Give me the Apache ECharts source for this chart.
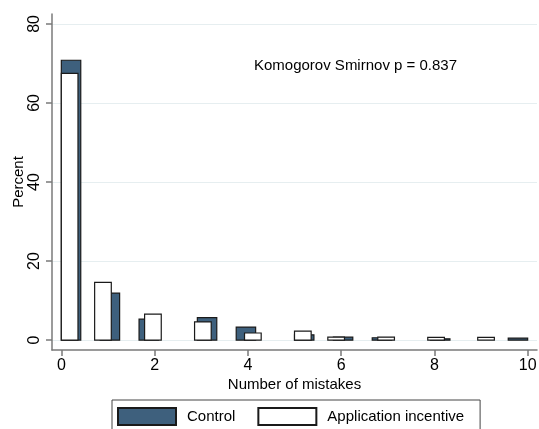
<!DOCTYPE html>
<html>
<head>
<meta charset="utf-8">
<script src="https://cdn.jsdelivr.net/npm/echarts@6/dist/echarts.min.js"></script>
<style>
  html, body { margin: 0; padding: 0; background: #fff; }
  #chart { width: 539px; height: 429px; }
</style>
</head>
<body>
<div id="chart"></div>
<script>
// Number of mistakes (discrete values)
const mistakes = [0, 1, 2, 3, 4, 5, 6, 7, 8, 9, 10];
// Percent of participants per value
const controlPct = [70.8, 11.9, 5.3, 5.7, 3.3, 1.35, 0.75, 0.6, 0.35, 0, 0.5];
const incentivePct = [67.5, 14.6, 6.6, 4.6, 1.8, 2.3, 0.75, 0.75, 0.7, 0.7, 0];
// Histogram bin widths used by each group (range 0..10 split in 24 and 28 bins)
const controlBins = 24;
const incentiveBins = 28;
const xTicks = [0, 2, 4, 6, 8, 10];
const yTicks = [0, 20, 40, 60, 80];
const seriesNames = ['Control', 'Application incentive'];
const annotation = 'Komogorov Smirnov p = 0.837';

function binData(values, pct, nBins) {
  const w = 10 / nBins;
  const out = [];
  values.forEach((v, i) => {
    if (pct[i] <= 0) return;
    let k = Math.floor(v / w + 1e-9);
    if (k >= nBins) k = nBins - 1;
    out.push([k * w, (k + 1) * w, pct[i]]);
  });
  return out;
}

function renderBar(params, api) {
  const p0 = api.coord([api.value(0), api.value(2)]);
  const p1 = api.coord([api.value(1), 0]);
  const rect = echarts.graphic.clipRectByRect(
    { x: p0[0], y: p0[1], width: p1[0] - p0[0], height: p1[1] - p0[1] },
    { x: params.coordSys.x, y: params.coordSys.y, width: params.coordSys.width, height: params.coordSys.height }
  );
  return rect && {
    type: 'rect',
    shape: rect,
    style: api.style()
  };
}

const FONT = 'Liberation Sans, Arial, Helvetica, sans-serif';
const chart = echarts.init(document.getElementById('chart'), null, { renderer: 'canvas' });
chart.setOption({
  animation: false,
  backgroundColor: '#ffffff',
  textStyle: { fontFamily: FONT, color: '#000' },
  grid: { left: 52, right: 2, top: 14, bottom: 79, containLabel: false, outerBoundsMode: 'none' },
  xAxis: {
    type: 'value',
    min: -0.2,
    max: 10.2,
    name: 'Number of mistakes',
    nameLocation: 'middle',
    nameGap: 27,
    nameMoveOverlap: false,
    nameTextStyle: { fontFamily: FONT, fontSize: 15, color: '#000' },
    axisLine: { show: true, onZero: false, lineStyle: { color: '#7a7a7a', width: 1.5 } },
    axisTick: { show: true, length: 6, customValues: xTicks, lineStyle: { color: '#7a7a7a', width: 1.5 } },
    axisLabel: { customValues: xTicks, margin: 8, fontFamily: FONT, fontSize: 16, color: '#000' },
    splitLine: { show: false }
  },
  yAxis: {
    type: 'value',
    min: -2.5,
    max: 82.5,
    name: 'Percent',
    nameLocation: 'middle',
    nameGap: 26,
    nameRotate: 90,
    nameMoveOverlap: false,
    nameTextStyle: { fontFamily: FONT, fontSize: 15, color: '#000' },
    axisLine: { show: true, onZero: false, lineStyle: { color: '#7a7a7a', width: 1.5 } },
    axisTick: { show: true, length: 6, customValues: yTicks, lineStyle: { color: '#7a7a7a', width: 1.5 } },
    axisLabel: { customValues: yTicks, rotate: 90, margin: 9, fontFamily: FONT, fontSize: 16, color: '#000' },
    splitLine: { show: true, lineStyle: { color: '#e6eef0', width: 1 } }
  },
  legend: {
    show: true,
    left: 112,
    top: 400,
    orient: 'horizontal',
    itemWidth: 58,
    itemHeight: 17,
    itemGap: 22,
    padding: [7, 16, 9, 5],
    borderColor: '#444',
    borderWidth: 1,
    borderRadius: 0,
    icon: 'rect',
    textStyle: { fontFamily: FONT, fontSize: 15, color: '#000', padding: [0, 0, 0, 6] },
    data: seriesNames,
    selectedMode: false
  },
  graphic: [{
    type: 'text',
    left: 254,
    top: 58,
    style: { text: annotation, font: '15px ' + FONT, fill: '#000' }
  }],
  series: [
    {
      name: seriesNames[0],
      type: 'custom',
      renderItem: renderBar,
      encode: { x: [0, 1], y: 2 },
      itemStyle: { color: '#3e607d', borderColor: '#1a1a1a', borderWidth: 1.2 },
      data: binData(mistakes, controlPct, controlBins),
      z: 2
    },
    {
      name: seriesNames[1],
      type: 'custom',
      renderItem: renderBar,
      encode: { x: [0, 1], y: 2 },
      itemStyle: { color: '#ffffff', borderColor: '#1a1a1a', borderWidth: 1.2 },
      data: binData(mistakes, incentivePct, incentiveBins),
      z: 3
    }
  ]
});
</script>
</body>
</html>
